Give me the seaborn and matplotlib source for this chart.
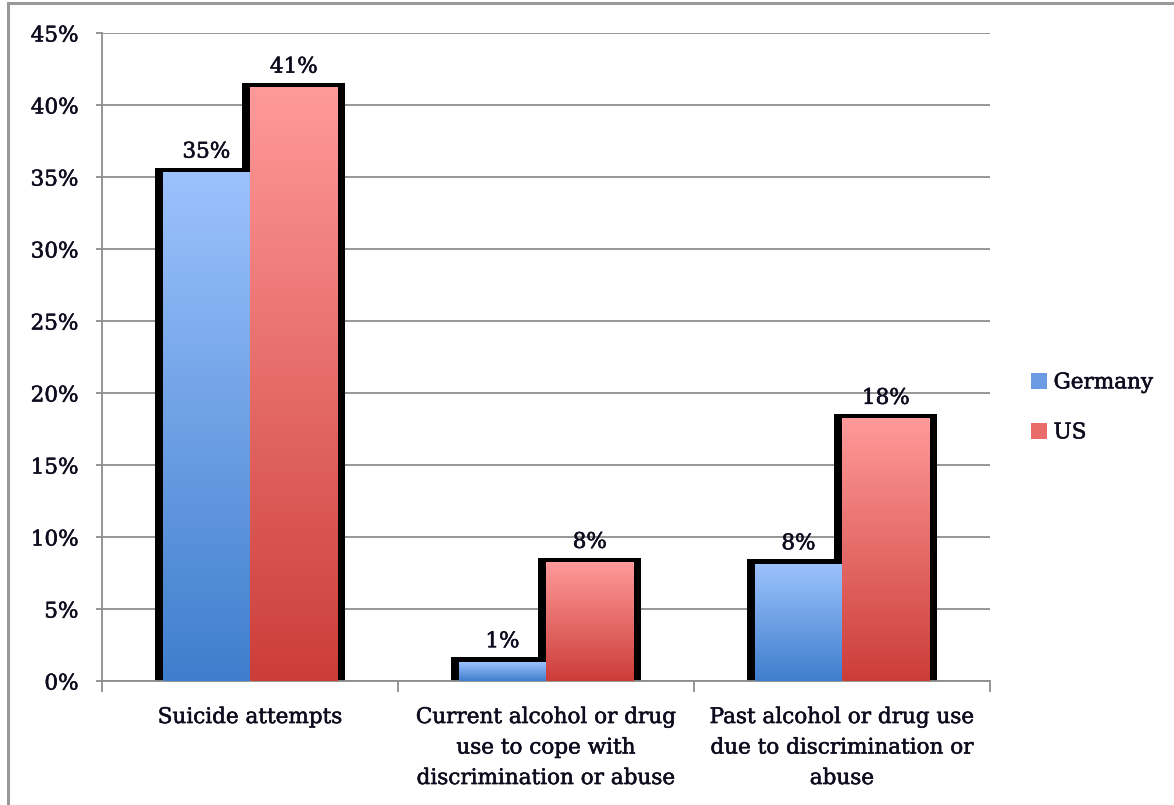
#!/usr/bin/env python3

import numpy as np
import pandas as pd
import matplotlib.pyplot as plt
import matplotlib.patheffects as pe
from matplotlib.colors import LinearSegmentedColormap
from matplotlib.patches import Rectangle, Patch
import seaborn as sns

categories = ["Suicide attempts",
              "Current alcohol or drug\nuse to cope with\ndiscrimination or abuse",
              "Past alcohol or drug use\ndue to discrimination or\nabuse"]
germany = [35.3, 1.3, 8.1]
us = [41.2, 8.2, 18.2]
countries = ["Germany", "US"]

df = pd.DataFrame({
    "category": categories * 2,
    "value": germany + us,
    "country": ["Germany"] * 3 + ["US"] * 3,
})

sns.set_style("white")
plt.rcParams["font.family"] = ["DejaVu Serif"]
txt = "#0c0c1e"
grid = "#8e8e8e"
fs = 15.5
heavy = [pe.withStroke(linewidth=0.4, foreground=txt)]

fig = plt.figure(figsize=(11.74, 8.05), dpi=100)
ax = fig.add_axes([0.0869, 0.154, 0.7564, 0.805])

sns.barplot(data=df, x="category", y="value", hue="country", hue_order=countries,
            order=categories, width=0.59, legend=False, ax=ax)

grads = {
    "Germany": LinearSegmentedColormap.from_list("g", ["#3f7ecd", "#9cc2fd"]),
    "US": LinearSegmentedColormap.from_list("u", ["#cc3d39", "#ff9a99"]),
}

# pixel -> data sizes for the black outline
dx = 8 / 297.0
dy = 5 / 14.4

bars = list(ax.patches)
hues = ["Germany"] * 3 + ["US"] * 3
for bar, hue, val in zip(bars, hues, germany + us):
    x, w, h = bar.get_x(), bar.get_width(), bar.get_height()
    bar.set_visible(False)
    ax.add_patch(Rectangle((x - dx, 0), w + 2 * dx, h + dy, color="black", zorder=2, lw=0))
    grad = np.linspace(0, 1, 256).reshape(-1, 1)
    ax.imshow(grad, cmap=grads[hue], extent=(x, x + w, 0, h), origin="lower",
              aspect="auto", zorder=3, interpolation="bilinear")
    ax.text(x + w / 2, h + 0.7, f"{round(val)}%", ha="center", va="bottom",
            fontsize=fs, color=txt, zorder=4, path_effects=heavy)

ax.set_xlim(-0.5, 2.5)
ax.set_ylim(0, 45)

ax.set_yticks(np.arange(0, 46, 5))
ax.set_yticklabels([f"{v}%" for v in range(0, 46, 5)], fontsize=fs, color=txt,
                   path_effects=heavy)
ax.yaxis.grid(True, color=grid, lw=1.3)
ax.set_axisbelow(True)
ax.tick_params(axis="y", length=4, width=1.3, color=grid, pad=13, left=True)

ax.set_xticks(range(3))
ax.set_xticklabels(categories, fontsize=fs, color=txt, linespacing=1.5,
                   path_effects=heavy)
ax.set_xticks([-0.5, 0.5, 1.5, 2.5], minor=True)
ax.tick_params(axis="x", which="major", length=0, pad=18)
ax.tick_params(axis="x", which="minor", length=8, width=1.3, color=grid, bottom=True)
ax.set_xlabel("")
ax.set_ylabel("")

for s in ["top", "right"]:
    ax.spines[s].set_visible(False)
for s in ["left", "bottom"]:
    ax.spines[s].set_color(grid)
    ax.spines[s].set_linewidth(1.3)

handles = [Patch(facecolor="#6b9be2", edgecolor="none"),
           Patch(facecolor="#e96c6a", edgecolor="none")]
leg = fig.legend(handles, countries, loc="center left", bbox_to_anchor=(0.869, 0.494),
                 frameon=False, fontsize=fs, handlelength=0.75, handleheight=0.75,
                 handletextpad=0.3, labelspacing=1.3, labelcolor=txt, borderpad=0)
for t in leg.get_texts():
    t.set_path_effects(heavy)

# chart area border (cut off at right and bottom)
fig.patches.append(Rectangle((8 / 1174, -0.1), 1.2, 1.1 - 3 / 805,
                             transform=fig.transFigure, fill=False,
                             edgecolor="#999999", lw=2.2))

fig.savefig("out.png", dpi=100)
plt.close()
